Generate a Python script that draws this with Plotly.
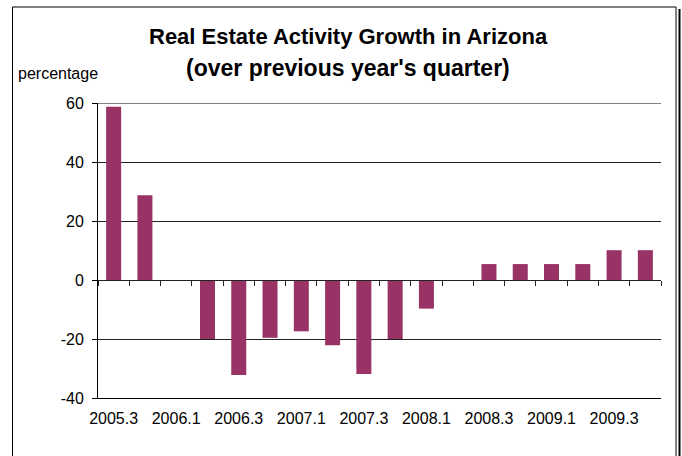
import plotly.graph_objects as go

categories = ["2005.3", "2005.4", "2006.1", "2006.2", "2006.3", "2006.4",
              "2007.1", "2007.2", "2007.3", "2007.4", "2008.1", "2008.2",
              "2008.3", "2008.4", "2009.1", "2009.2", "2009.3", "2009.4"]
growth = [58.7, 28.7, 0, -20.0, -32.2, -19.6,
          -17.4, -22.1, -31.9, -20.0, -9.7, 0,
          5.4, 5.4, 5.4, 5.4, 10.1, 10.1]
tick_labels = categories[::2]
y_ticks = [-40, -20, 0, 20, 40, 60]
y_tick_text = ["-40", "-20", "0", "20", "40", "60"]

W, H = 682, 456
L, R, T, B = 98, 21, 103, 58
PW, PH = W - L - R, H - T - B


def px2x(px):
    return (px - L) / PW


def px2y(py):
    return (H - B - py) / PH


FONT = "Liberation Sans, Arial, sans-serif"
BAR = "#993366"

fig = go.Figure()
fig.add_trace(go.Bar(x=categories, y=growth, marker_color=BAR,
                     marker_line_width=0, showlegend=False))
fig.add_trace(go.Scatter(x=categories, y=growth, xaxis="x2", mode="none",
                         hoverinfo="skip", showlegend=False))

fig.update_layout(
    width=W, height=H,
    margin=dict(l=L, r=R, t=T, b=B, pad=0),
    paper_bgcolor="white", plot_bgcolor="white",
    bargap=0.52,
    font=dict(family=FONT, size=16, color="black"),
    xaxis=dict(type="category", categoryorder="array", categoryarray=categories,
               range=[-0.5, len(categories) - 0.5],
               tickmode="array", tickvals=tick_labels, ticktext=tick_labels,
               ticks="", showline=True, linecolor="black", linewidth=1,
               showgrid=False, tickfont=dict(size=16), ticklabelstandoff=6),
    xaxis2=dict(type="category", categoryorder="array", categoryarray=categories,
                range=[-0.5, len(categories) - 0.5], overlaying="x",
                anchor="free", position=(0 - y_ticks[0]) / (y_ticks[-1] - y_ticks[0]),
                side="bottom", tickson="boundaries", ticks="outside", ticklen=5,
                tickcolor="#222", showticklabels=False, showline=True,
                linecolor="#222", linewidth=1, showgrid=False),
    yaxis=dict(range=[y_ticks[0], y_ticks[-1]], tickmode="array",
               tickvals=y_ticks, ticktext=y_tick_text,
               ticks="outside", ticklen=5, tickcolor="black",
               showline=True, linecolor="black", linewidth=1,
               showgrid=True, gridcolor="#222", gridwidth=1,
               zeroline=False, tickfont=dict(size=16), ticklabelstandoff=5),
    shapes=[
        dict(type="line", xref="paper", yref="y", x0=0, x1=1,
             y0=y_ticks[-1], y1=y_ticks[-1], line=dict(color="#808080", width=2)),
        dict(type="rect", xref="paper", yref="paper",
             x0=px2x(12.5), x1=px2x(676), y0=px2y(470), y1=px2y(7),
             line=dict(color="black", width=1)),
        dict(type="line", xref="paper", yref="paper",
             x0=px2x(679.5), x1=px2x(679.5), y0=px2y(470), y1=px2y(9),
             line=dict(color="black", width=2)),
    ],
    annotations=[
        dict(text="<b>Real Estate Activity Growth in Arizona</b>", xref="paper", yref="paper",
             x=px2x(348), y=px2y(36), xanchor="center", yanchor="middle",
             showarrow=False, font=dict(size=22)),
        dict(text="<b>(over previous year's quarter)</b>", xref="paper", yref="paper",
             x=px2x(348), y=px2y(68), xanchor="center", yanchor="middle",
             showarrow=False, font=dict(size=23)),
        dict(text="percentage", xref="paper", yref="paper",
             x=px2x(16), y=px2y(73), xanchor="left", yanchor="middle",
             showarrow=False, font=dict(size=16)),
    ],
)

fig.write_html("out.html", config={"displayModeBar": False},
               post_script="document.body.style.margin='0';")
